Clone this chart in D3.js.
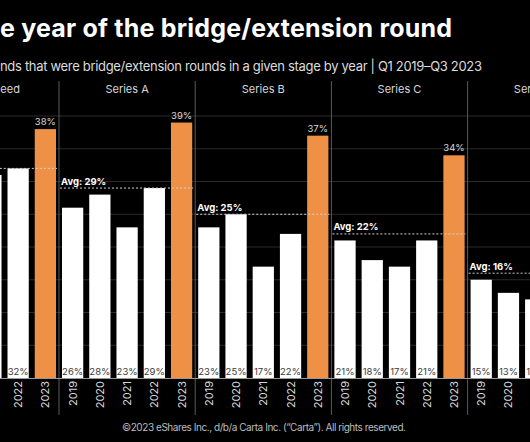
<!DOCTYPE html>
<html>
<head>
<meta charset="utf-8">
<script src="https://cdn.jsdelivr.net/npm/d3@7"></script>
<style>
  html, body { margin: 0; padding: 0; background: #000; }
  svg { display: block; }
  text { font-family: Inter, "Open Sans", sans-serif; }
</style>
</head>
<body>
<svg id="chart" width="530" height="442"></svg>
<script>
// ---- Data ----
const stages = ["Seed", "Series A", "Series B", "Series C", "Series D"];
const years = ["2019", "2020", "2021", "2022", "2023"];
const seedValues    = [29, 30, 31, 32, 38];
const seriesAValues = [26, 28, 23, 29, 39];
const seriesBValues = [23, 25, 17, 22, 37];
const seriesCValues = [21, 18, 17, 21, 34];
const seriesDValues = [15, 13, 12, 14, 26];
const averages = [32, 29, 25, 22, 16];
const gridTicks = [5, 10, 15, 20, 25, 30, 35, 40];
const titleText = "e year of the bridge/extension round";
const subtitleText = "nds that were bridge/extension rounds in a given stage by year | Q1 2019\u2013Q3 2023";
const footerText = "\u00A92023 eShares Inc., d/b/a Carta Inc. (\u201CCarta\u201D). All rights reserved.";

const valuesByStage = [seedValues, seriesAValues, seriesBValues, seriesCValues, seriesDValues];

// ---- Layout ----
const W = 530, H = 442;
const panelW = 136.2;
const firstPanelX = -77.2;
const svg = d3.select("#chart");
svg.append("rect").attr("width", W).attr("height", H).attr("fill", "#000");

const panelX = d3.scaleBand().domain(stages)
  .range([firstPanelX, firstPanelX + panelW * stages.length]).paddingInner(0).paddingOuter(0);
const x = d3.scaleBand().domain(years).range([0, panelW]).paddingInner(0.22).paddingOuter(0.11);
const y = d3.scaleLinear().domain([0, 45]).range([378, 83.25]);

const ORANGE = "#EE9147";

// gridlines
svg.append("g").selectAll("line").data(gridTicks).join("line")
  .attr("x1", 0).attr("x2", W)
  .attr("y1", d => y(d)).attr("y2", d => y(d))
  .attr("stroke", "#2a2a2a").attr("stroke-width", 1);

// panels
const panels = svg.append("g").selectAll("g.panel")
  .data(stages.map((s, i) => ({ stage: s, values: valuesByStage[i], avg: averages[i] })))
  .join("g").attr("class", "panel")
  .attr("transform", d => `translate(${panelX(d.stage)},0)`);

// dividers (left edge of each panel)
panels.append("line")
  .attr("x1", 0).attr("x2", 0).attr("y1", 81).attr("y2", 415)
  .attr("stroke", "#5a5a5a").attr("stroke-width", 1);

// panel title
panels.append("text")
  .attr("x", d => d.stage === "Seed" ? panelW / 2 + 29 : panelW / 2)
  .attr("y", 93)
  .attr("text-anchor", d => d.stage === "Seed" ? "end" : "middle")
  .attr("fill", "#d8d8d8").attr("font-size", 11)
  .text(d => d.stage);

// bars
panels.each(function(d) {
  const g = d3.select(this);
  const rows = years.map((yr, i) => ({ year: yr, v: d.values[i], last: i === years.length - 1 }));
  g.selectAll("rect.bar").data(rows).join("rect").attr("class", "bar")
    .attr("x", r => x(r.year)).attr("width", x.bandwidth())
    .attr("y", r => y(r.v)).attr("height", r => y(0) - y(r.v))
    .attr("fill", r => r.last ? ORANGE : "#ffffff");

  // inside labels for white bars
  g.selectAll("text.inlab").data(rows.filter(r => !r.last)).join("text").attr("class", "inlab")
    .attr("x", r => x(r.year) + x.bandwidth() / 2).attr("y", y(0) - 3.5)
    .attr("text-anchor", "middle").attr("font-size", 9.5).attr("fill", "#3a3a3a")
    .text(r => r.v + "%");

  // label above orange bar
  g.selectAll("text.toplab").data(rows.filter(r => r.last)).join("text").attr("class", "toplab")
    .attr("x", r => x(r.year) + x.bandwidth() / 2).attr("y", r => y(r.v) - 4)
    .attr("text-anchor", "middle").attr("font-size", 9.5).attr("fill", "#d8d8d8")
    .text(r => r.v + "%");

  // year labels
  g.selectAll("text.year").data(rows).join("text").attr("class", "year")
    .attr("transform", r => `translate(${x(r.year) + x.bandwidth() / 2 + 4},${y(0) + 3}) rotate(-90)`)
    .attr("text-anchor", "end").attr("font-size", 11).attr("fill", "#d8d8d8")
    .text(r => r.year);

  // average line
  g.append("line")
    .attr("x1", 1).attr("x2", panelW - 2)
    .attr("y1", y(d.avg)).attr("y2", y(d.avg))
    .attr("stroke", "#cfcfcf").attr("stroke-width", 1).attr("stroke-dasharray", "2,2");
  g.append("text")
    .attr("x", 2).attr("y", y(d.avg) - 3.5)
    .attr("font-size", 9.5).attr("font-weight", 700).attr("fill", "#ffffff")
    .text("Avg: " + d.avg + "%");
});

// baseline
svg.append("line").attr("x1", 0).attr("x2", W).attr("y1", y(0) + 0.5).attr("y2", y(0) + 0.5)
  .attr("stroke", "#9a9a9a").attr("stroke-width", 1);

// title & subtitle
svg.append("text").attr("x", 452).attr("y", 37).attr("text-anchor", "end")
  .attr("font-size", 25).attr("font-weight", 700).attr("fill", "#ffffff")
  .attr("textLength", 452).attr("lengthAdjust", "spacing")
  .text(titleText);
svg.append("text").attr("x", 482).attr("y", 71).attr("text-anchor", "end")
  .attr("font-size", 13).attr("fill", "#dcdcdc")
  .attr("textLength", 482).attr("lengthAdjust", "spacing")
  .text(subtitleText);

// footer
svg.append("text").attr("x", 264).attr("y", 431).attr("text-anchor", "middle")
  .attr("font-size", 10).attr("fill", "#bdbdbd")
  .attr("textLength", 284).attr("lengthAdjust", "spacing")
  .text(footerText);
</script>
</body>
</html>
